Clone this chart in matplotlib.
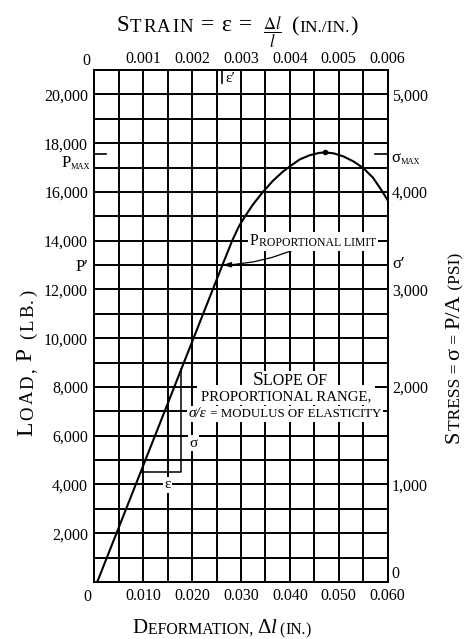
import matplotlib
matplotlib.use("Agg")
import matplotlib.pyplot as plt
import numpy as np
from matplotlib.patches import Rectangle
from matplotlib.transforms import Bbox, IdentityTransform

plt.rcParams["font.family"] = ["Liberation Serif", "DejaVu Serif"]
plt.rcParams["mathtext.fontset"] = "stix"

# LOAD-DEFORMATION CURVE
deformation = [0.0006, 0.0262, 0.0282, 0.0296, 0.0310, 0.0325, 0.0345, 0.0365, 0.0385, 0.0400,
               0.0420, 0.0440, 0.0460, 0.0472, 0.0490, 0.0510, 0.0530, 0.0550, 0.0570, 0.0588, 0.0600]
load = [0, 13000, 14000, 14600, 15050, 15500, 16000, 16450, 16820, 17050,
        17330, 17500, 17600, 17620, 17580, 17450, 17250, 16980, 16580, 16050, 15650]

prop_limit = (0.0262, 13000)
max_point = (0.0472, 17620)
p_max = 17550

# SLOPE TRIANGLE
tri_def = [0.0095, 0.0178, 0.0178]
tri_load = [4500, 4500, 8720]

gauge_length = 10.0  # in.
area = 4.0           # in.^2

# TICKS
load_ticks = [2000, 4000, 6000, 8000, 10000, 12000, 14000, 16000, 18000, 20000]
load_labels = ["2,000", "4,000", "6,000", "8,000", "10,000", "12,000", "14,000", "16,000", "18,000", "20,000"]
stress_ticks = [0, 1000, 2000, 3000, 4000, 5000]
stress_labels = ["0", "1,000", "2,000", "3,000", "4,000", "5,000"]
def_ticks = [0.010, 0.020, 0.030, 0.040, 0.050, 0.060]
def_labels = ["0.010", "0.020", "0.030", "0.040", "0.050", "0.060"]
strain_ticks = [0.001, 0.002, 0.003, 0.004, 0.005, 0.006]
strain_labels = ["0.001", "0.002", "0.003", "0.004", "0.005", "0.006"]

W, H = 467, 639
fig = plt.figure(figsize=(W / 100, H / 100), dpi=100)
ax = fig.add_axes([94.3 / W, 1 - 582 / H, (387.7 - 94.3) / W, (582 - 70) / H])

LW = 1.4
ax.set_xlim(0, 0.060)
ax.set_ylim(0, 21000)
ax.set_xticks(def_ticks)
ax.set_xticklabels(def_labels)
ax.set_xticks(np.arange(0.005, 0.06, 0.01), minor=True)
ax.set_yticks(load_ticks)
ax.set_yticklabels(load_labels)
ax.set_yticks(np.arange(1000, 21000, 2000), minor=True)
ax.grid(which="both", color="black", lw=LW)
ax.tick_params(which="both", length=0, labelsize=11.5)
ax.tick_params(axis="x", pad=4.5)
ax.tick_params(axis="y", pad=4.5)
for s in ax.spines.values():
    s.set_linewidth(LW)

# top strain axis
axt = ax.twiny()
axt.set_xlim(0, 0.060 / gauge_length)
axt.set_xticks(strain_ticks)
axt.set_xticklabels(strain_labels)
axt.tick_params(length=0, labelsize=11.5, pad=2)

# right stress axis
axr = ax.twinx()
axr.set_ylim(0, 21000 / area)
axr.set_yticks(stress_ticks)
axr.set_yticklabels(stress_labels)
axr.tick_params(length=0, labelsize=11.5, pad=3)
for lbl in axr.get_yticklabels():
    if lbl.get_text() == "0":
        lbl.set_va("bottom")
for a in (axt, axr):
    for s in a.spines.values():
        s.set_linewidth(LW)

# zero labels
ax.annotate("0", xy=(0, 0), xycoords="axes fraction", xytext=(-7, -15), textcoords="offset pixels",
            ha="center", va="center", fontsize=11.5, annotation_clip=False)
ax.annotate("0", xy=(0, 1), xycoords="axes fraction", xytext=(-8, 9), textcoords="offset pixels",
            ha="center", va="center", fontsize=11.5, annotation_clip=False)

# curve and construction lines
ax.plot(deformation, load, color="black", lw=1.5, zorder=3)
ax.plot(*max_point, "o", color="black", ms=3, zorder=3)
ax.plot(tri_def, tri_load, color="black", lw=1.1, zorder=3)

# P max / P' marks
ax.axhline(p_max, xmin=0, xmax=12 / 293.4, color="black", lw=1.2)
ax.axhline(p_max, xmin=1 - 13 / 293.4, xmax=1, color="black", lw=1.2)
ax.axvline(prop_limit[0], ymin=1 - 13 / 512, ymax=1, color="black", lw=1.2)
ytr = ax.get_yaxis_transform()
ax.annotate("P′", xy=(0, prop_limit[1]), xycoords=ytr, xytext=(-6, -2),
            textcoords="offset pixels", ha="right", va="center", fontsize=12, annotation_clip=False)
ax.annotate("σ′", xy=(1, prop_limit[1]), xycoords=ytr, xytext=(5, 1),
            textcoords="offset pixels", ha="left", va="center", fontsize=12, annotation_clip=False)
ax.annotate("ε′", xy=(prop_limit[0], 1), xycoords=ax.get_xaxis_transform(), xytext=(3, -8),
            textcoords="offset pixels", ha="left", va="center", fontsize=11, annotation_clip=False)

# triangle labels
white = dict(fc="white", ec="none", pad=1)
ax.text(0.0202, 5700, "σ", ha="center", va="center", fontsize=11, bbox=white, zorder=4)
ax.text(0.0149, 3980, "ε", ha="center", va="center", fontsize=11, bbox=white, zorder=4)

# proportional limit leader
ax.annotate("", xy=prop_limit, xytext=(0.0421, 13740),
            arrowprops=dict(arrowstyle="-|>,head_length=0.5,head_width=0.15", color="black", lw=0.9,
                            connectionstyle="arc3,rad=-0.1", shrinkA=0, shrinkB=0))

chains = []


# small caps text built from runs of different sizes, chained one after another
# box = (pad x, pad bottom, pad top) of a white patch behind the text, in pixels
def chain(pieces, x, y, rotation=0, center=None, box=None, gap=0):
    arts = []
    for txt, size, style in pieces:
        kw = dict(fontsize=size, fontstyle=style, rotation=rotation, annotation_clip=False, zorder=5)
        if not arts:
            extra = dict(rotation_mode="anchor") if rotation else {}
            t = ax.annotate(txt, xy=(x / W, 1 - y / H), xycoords="figure fraction",
                            ha="left", va="baseline", **extra, **kw)
        elif rotation:
            t = ax.annotate(txt, xy=(1, 1), xycoords=arts[-1], xytext=(0, gap), textcoords="offset pixels",
                            ha="right", va="bottom", **kw)
        else:
            t = ax.annotate(txt, xy=(1, 0), xycoords=arts[-1], xytext=(gap, 0), textcoords="offset pixels",
                            ha="left", va="bottom", **kw)
        arts.append(t)
    chains.append((arts, rotation, center, box))


def spaced(text, size, style="normal"):
    return [(ch, size, style) for ch in text]


N, I = "normal", "italic"
BOX = (2, 1.5, 1.5)
# title
chain([("S", 16.5, N)] + spaced("TRAIN", 13.5) + [(" = ", 17, N), ("ε", 17, N), (" =", 17, N)],
      115, 31, center=184, gap=1.5)
fig.text(272 / W, 1 - 32.5 / H, r"$\dfrac{\Delta l}{l}$", ha="center", va="center", fontsize=12)
chain([("(", 16, N), ("IN./IN.", 12.5, N), (")", 16, N)], 293, 31, center=325)
# x label
chain([("D", 15, N), ("EFORMATION, ", 11.3, N), ("Δ", 15, N), ("l", 15, I), (" (", 11.3, N),
       ("IN.", 11.3, N), (")", 11.3, N)], 133, 633, center=222)
# left y label (letter-spaced)
chain([("L", 17, N)] + spaced("OAD,", 13.5) + [(" P", 17, N)] + spaced(" (LB.)", 13.5),
      32, 473, rotation=90, center=363, gap=2)
# right y label
chain([("S", 16, N), ("TRESS = ", 12.5, N), ("σ", 16, N), (" = ", 12.5, N), ("P/A", 16, N),
       (" (PSI)", 12.5, N)], 459, 443, rotation=90, center=348)
# P max / sigma max labels
chain([("P", 12, N), ("MAX", 6, N)], 63, 167, center=75.5)
chain([("σ", 12, N), ("MAX", 6, N)], 393, 162, center=405.5)
# annotations in the grid
chain([("P", 11.5, N), ("ROPORTIONAL LIMIT", 8.5, N)], 250, 245, center=313, box=BOX)
chain([("S", 14, N), ("LOPE OF", 11.5, N)], 250, 385, center=290, box=BOX)
chain([("PROPORTIONAL RANGE,", 10.7, N)], 200, 400, center=286, box=(4, 1.5, 5))
chain([("σ/ε", 11, I), (" = MODULUS OF ELASTICITY", 9.3, N)], 187, 417, center=285, box=BOX)

fig.canvas.draw()
r = fig.canvas.get_renderer()
for arts, rot, c, box in chains:
    if c is None:
        continue
    bb = Bbox.union([t.get_window_extent(r) for t in arts])
    x0, y0 = arts[0].xyann
    if rot:
        dy = (H - c) - (bb.y0 + bb.y1) / 2
        arts[0].xyann = (x0, y0 + dy / H)
    else:
        dx = c - (bb.x0 + bb.x1) / 2
        arts[0].xyann = (x0 + dx / W, y0)

fig.canvas.draw()
for arts, rot, c, box in chains:
    if box is None:
        continue
    px, pb, pt = box
    bb = Bbox.union([t.get_window_extent(r) for t in arts])
    ax.add_patch(Rectangle((bb.x0 - px, bb.y0 - pb), bb.width + 2 * px, bb.height + pb + pt,
                           transform=IdentityTransform(), fc="white", ec="none", zorder=4, clip_on=False))

fig.savefig("out.png", dpi=100, facecolor="white")
